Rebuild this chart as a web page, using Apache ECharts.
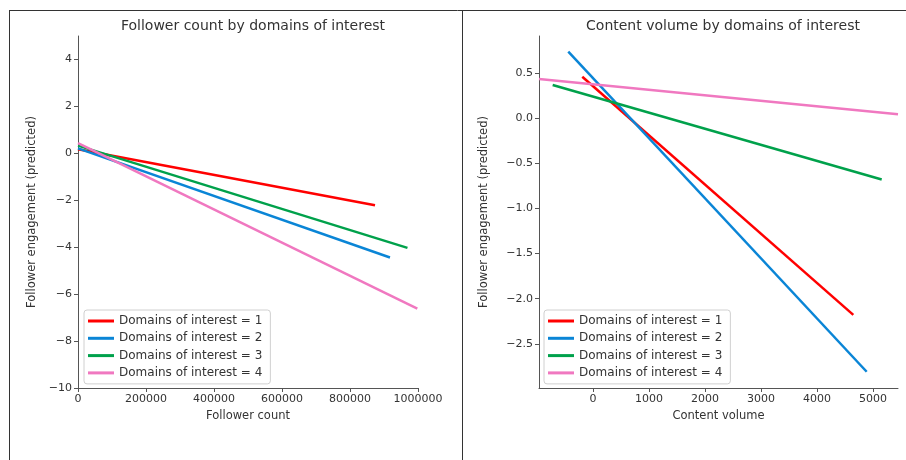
<!DOCTYPE html>
<html>
<head>
<meta charset="utf-8">
<script src="https://cdn.jsdelivr.net/npm/echarts@6/dist/echarts.min.js"></script>
<style>
  html, body { margin: 0; padding: 0; background: #fff; }
  #chart { width: 906px; height: 460px; }
</style>
</head>
<body>
<div id="chart"></div>
<script>
// legend names and colours
var legendNames = ['Domains of interest = 1', 'Domains of interest = 2', 'Domains of interest = 3', 'Domains of interest = 4']
var colorList = ['#ff0000', '#0a85d6', '#00a14b', '#f078c0']

// left panel: follower count
var followerXStart = [0, 0, 0, 0]
var followerXEnd = [873500, 917600, 969000, 998000]
var followerYStart = [0.17, 0.21, 0.33, 0.43]
var followerYEnd = [-2.21, -4.44, -4.03, -6.62]
var followerXTicks = [0, 200000, 400000, 600000, 800000, 1000000]
var followerYTicks = [-10, -8, -6, -4, -2, 0, 2, 4]

// right panel: content volume
var volumeXStart = [-191, -441, -720, -964]
var volumeXEnd = [4648, 4887, 5155, 5446]
var volumeYStart = [0.459, 0.737, 0.367, 0.433]
var volumeYEnd = [-2.18, -2.81, -0.68, 0.044]
var volumeXTicks = [0, 1000, 2000, 3000, 4000, 5000]
var volumeYTicks = [-2.5, -2.0, -1.5, -1.0, -0.5, 0.0, 0.5]

var font = 'DejaVu Sans'
var textColor = '#333'
var axisColor = '#555'

function minus (s) {
  return String(s).replace('-', '\u2212')
}

function makeAxis (gridIndex, min, max, ticks, name, nameGap, fmt) {
  return {
    type: 'value',
    gridIndex: gridIndex,
    min: min,
    max: max,
    name: name,
    nameLocation: 'middle',
    nameGap: nameGap,
    nameTextStyle: { fontFamily: font, fontSize: 11.5, color: textColor },
    axisLine: { show: true, onZero: false, lineStyle: { color: axisColor, width: 1 } },
    axisTick: { show: true, inside: false, length: 4, lineStyle: { color: axisColor }, customValues: ticks },
    axisLabel: {
      fontFamily: font,
      fontSize: 11,
      color: textColor,
      margin: 6,
      customValues: ticks,
      formatter: fmt
    },
    splitLine: { show: false }
  }
}

var series = []
for (var i = 0; i < legendNames.length; i++) {
  series.push({
    name: legendNames[i],
    type: 'line',
    xAxisIndex: 0,
    yAxisIndex: 0,
    symbol: 'none',
    silent: true,
    lineStyle: { width: 2.5, color: colorList[i] },
    itemStyle: { color: colorList[i] },
    data: [[followerXStart[i], followerYStart[i]], [followerXEnd[i], followerYEnd[i]]]
  })
}
for (var j = 0; j < legendNames.length; j++) {
  series.push({
    name: legendNames[j],
    type: 'line',
    xAxisIndex: 1,
    yAxisIndex: 1,
    symbol: 'none',
    silent: true,
    lineStyle: { width: 2.5, color: colorList[j] },
    itemStyle: { color: colorList[j] },
    data: [[volumeXStart[j], volumeYStart[j]], [volumeXEnd[j], volumeYEnd[j]]]
  })
}

function makeLegend (left) {
  return {
    orient: 'vertical',
    left: left,
    top: 310,
    data: legendNames,
    icon: 'rect',
    itemWidth: 26,
    itemHeight: 3,
    itemGap: 3.3,
    padding: [4, 8, 4, 4],
    borderColor: '#d0d0d0',
    borderWidth: 1,
    borderRadius: 3,
    selectedMode: false,
    textStyle: { fontFamily: font, fontSize: 12, color: textColor, lineHeight: 14 }
  }
}

var chart = echarts.init(document.getElementById('chart'))
chart.setOption({
  animation: false,
  backgroundColor: '#fff',
  title: [
    { text: 'Follower count by domains of interest', left: 248, top: 14, textAlign: 'center',
      textStyle: { fontFamily: font, fontSize: 14, fontWeight: 'normal', color: textColor } },
    { text: 'Content volume by domains of interest', left: 718, top: 14, textAlign: 'center',
      textStyle: { fontFamily: font, fontSize: 14, fontWeight: 'normal', color: textColor } }
  ],
  legend: [makeLegend(84), makeLegend(544)],
  grid: [
    { left: 78, top: 36, width: 340, height: 352 },
    { left: 539, top: 36, width: 359, height: 352 }
  ],
  xAxis: [
    makeAxis(0, 0, 1000000, followerXTicks, 'Follower count', 22, function (v) { return minus(v) }),
    makeAxis(1, -964, 5446, volumeXTicks, 'Content volume', 22, function (v) { return minus(v) })
  ],
  yAxis: [
    makeAxis(0, -10, 5, followerYTicks, 'Follower engagement (predicted)', 40, function (v) { return minus(v) }),
    makeAxis(1, -2.99, 0.91, volumeYTicks, 'Follower engagement (predicted)', 49, function (v) { return minus(v.toFixed(1)) })
  ],
  graphic: [
    { type: 'line', shape: { x1: 9, y1: 10.5, x2: 906, y2: 10.5 }, style: { stroke: '#333', lineWidth: 1 } },
    { type: 'line', shape: { x1: 9.5, y1: 10, x2: 9.5, y2: 460 }, style: { stroke: '#333', lineWidth: 1 } },
    { type: 'line', shape: { x1: 462.5, y1: 10, x2: 462.5, y2: 460 }, style: { stroke: '#333', lineWidth: 1 } }
  ],
  series: series
})
</script>
</body>
</html>
